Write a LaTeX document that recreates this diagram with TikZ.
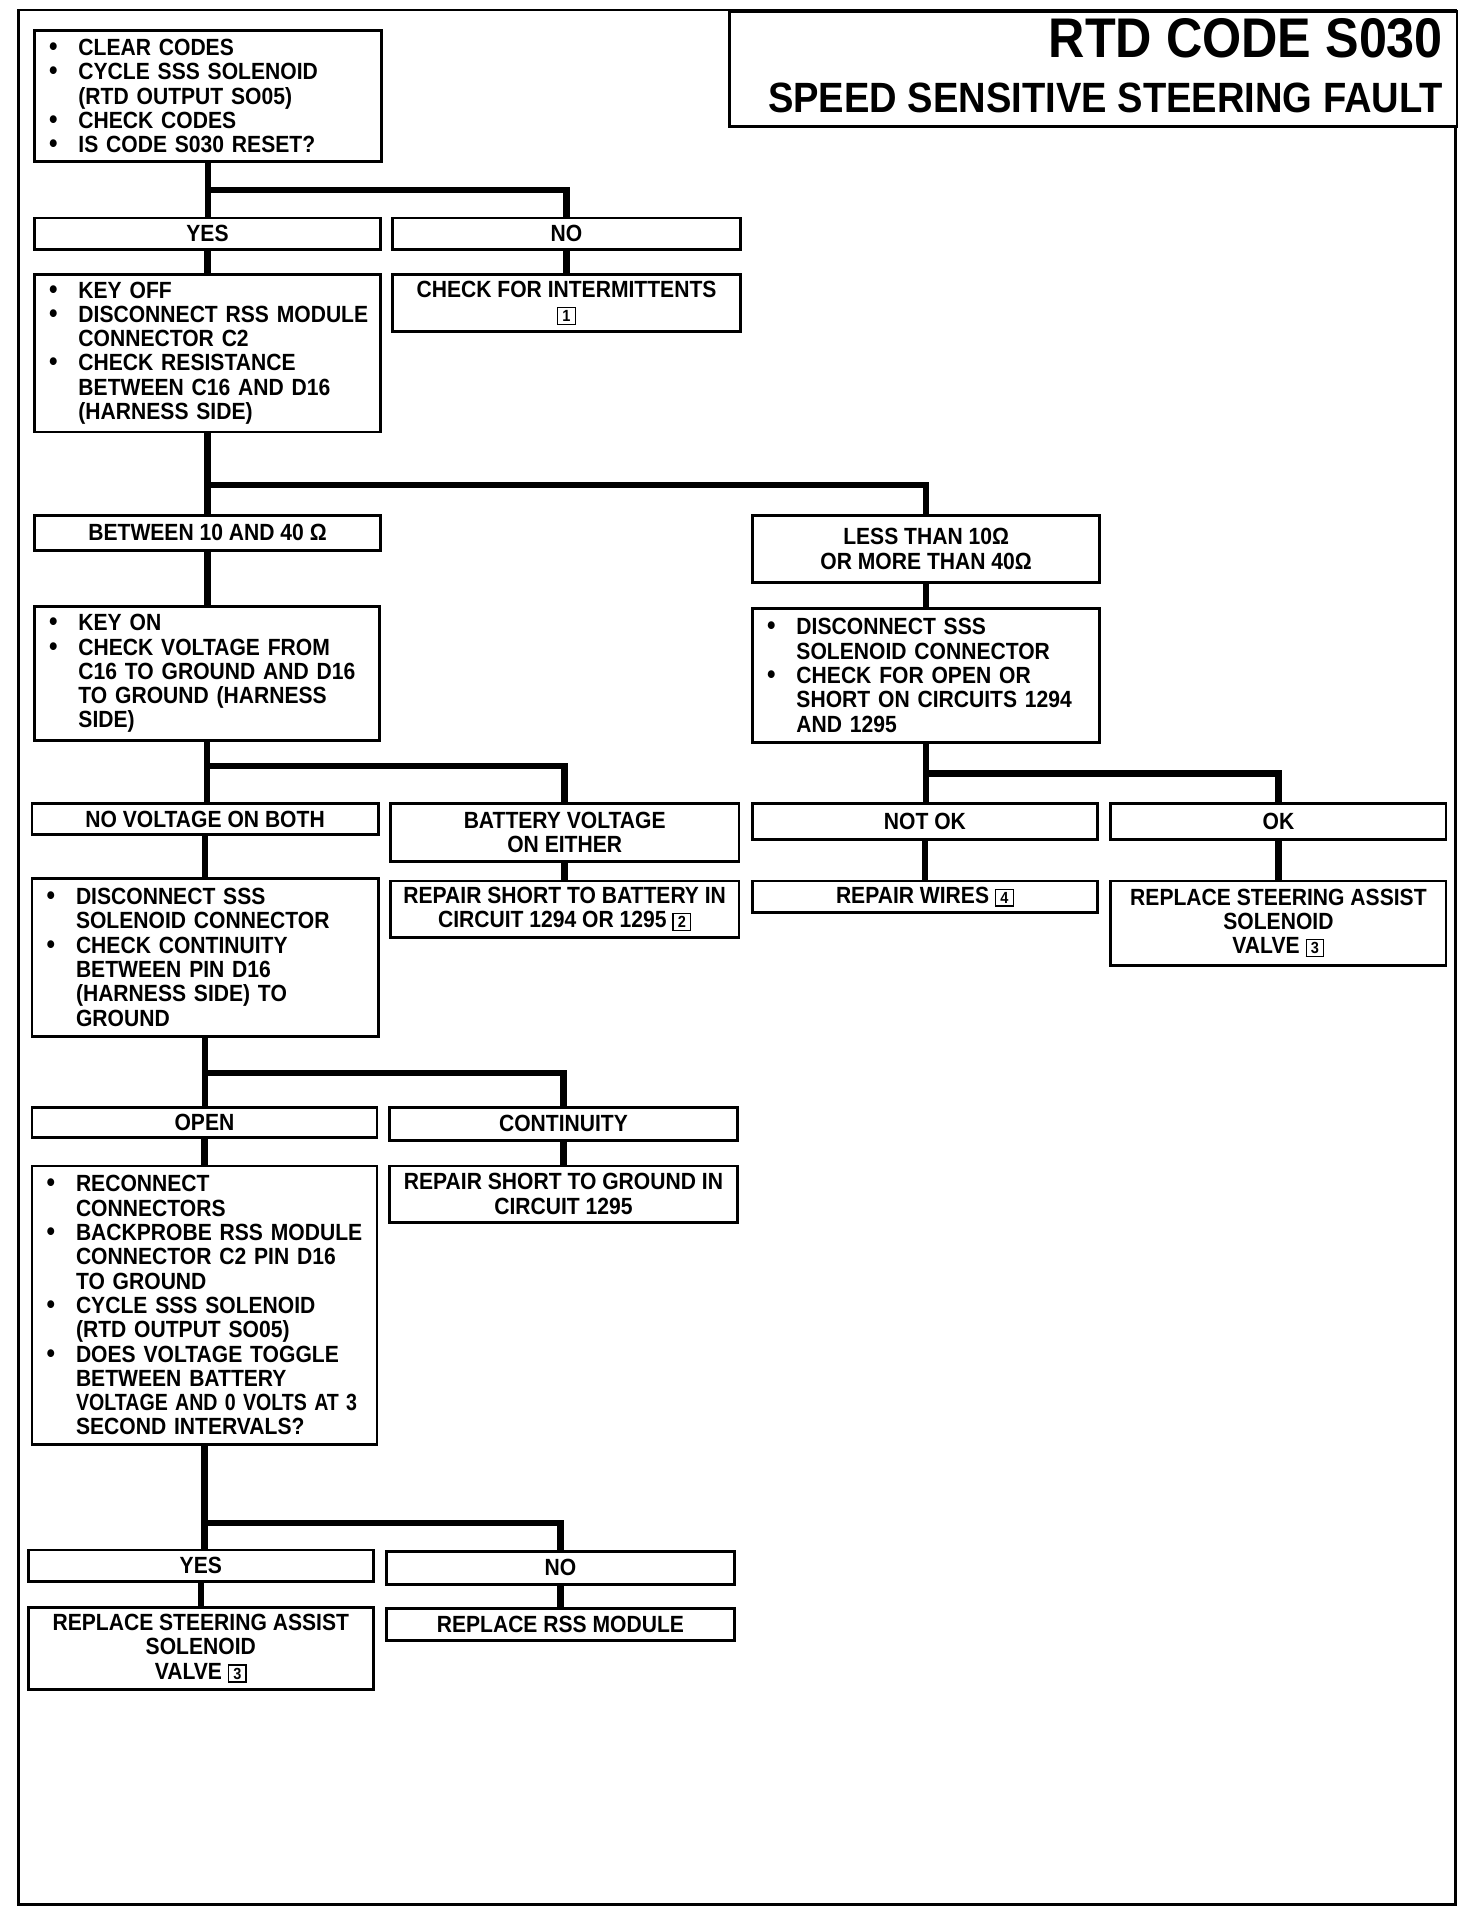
\documentclass[tikz,border=0pt]{standalone}
\usepackage{fontspec}
\setmainfont{Liberation Sans}[FakeStretch=0.9]
\usepackage{graphicx}
\usepackage{tikz}

\newcommand{\bodyfont}{\fontsize{10.9}{11.3}\selectfont\bfseries}
\newcommand{\bul}[1]{\mbox{\hspace{0.09cm}\makebox[0.48cm][l]{\fontsize{12.5}{11}\selectfont\textbullet}#1}}
\newcommand{\nobul}[1]{\mbox{\hspace{0.57cm}#1}}
\newcommand{\refno}[1]{{\setlength{\fboxsep}{1pt}\setlength{\fboxrule}{0.6pt}\fbox{\makebox[5.6pt]{\fontsize{7.5}{7.5}\selectfont #1}}}}

\tikzset{
  flow/.style={draw, line width=1.3pt, fill=white, anchor=north west, inner ysep=0pt, font=\bodyfont},
  ans/.style={flow, inner xsep=0.1cm, align=center},
  act/.style={flow, inner xsep=0.15cm, align=left},
  conn/.style={line width=3pt},
  titlebox/.style={draw, line width=1.3pt, fill=white, anchor=north west},
}

\begin{document}
\begin{tikzpicture}[x=0.2mm, y=-0.2mm]
	\useasboundingbox (0,0) rectangle (1203,1568);
	\draw[line width=1.1pt] (15,8) rectangle (1190,1557);
	\node[titlebox, minimum width=11.9cm, minimum height=1.88cm] (title) at (595,8) {};
	\node[anchor=base east, inner sep=0pt, font=\fontsize{26}{26}\selectfont\bfseries] (code) at (1180,47) {RTD CODE S030};
	\node[anchor=base east, inner sep=0pt, font=\fontsize{19.7}{19.7}\selectfont\bfseries] (fault) at (1180,92) {SPEED SENSITIVE STEERING FAULT};

	\node[act, text width=5.38cm, minimum height=2.14cm] (start) at (27,24) {\bul{CLEAR CODES}\\ \bul{CYCLE SSS SOLENOID}\\ \nobul{(RTD OUTPUT SO05)}\\ \bul{CHECK CODES}\\ \bul{IS CODE S030 RESET?}};
	\node[ans, minimum width=5.66cm, minimum height=0.52cm] (yes1) at (27,177) {YES};
	\node[ans, minimum width=5.68cm, minimum height=0.52cm] (no1) at (320,177) {NO};
	\node[act, text width=5.36cm, minimum height=2.58cm] (keyoff) at (27,223) {\bul{KEY OFF}\\ \bul{DISCONNECT RSS MODULE}\\ \nobul{CONNECTOR C2}\\ \bul{CHECK RESISTANCE}\\ \nobul{BETWEEN C16 AND D16}\\ \nobul{(HARNESS SIDE)}};
	\node[ans, minimum width=5.68cm, minimum height=0.94cm] (interm) at (320,223) {CHECK FOR INTERMITTENTS\\ \refno{1}};
	\node[ans, minimum width=5.66cm, minimum height=0.58cm] (betw) at (27,420) {BETWEEN 10 AND 40 Ω};
	\node[ans, minimum width=5.68cm, minimum height=1.10cm] (less) at (614,420) {LESS THAN 10Ω\\ OR MORE THAN 40Ω};
	\node[act, text width=5.34cm, minimum height=2.18cm] (keyon) at (27,495) {\bul{KEY ON}\\ \bul{CHECK VOLTAGE FROM}\\ \nobul{C16 TO GROUND AND D16}\\ \nobul{TO GROUND (HARNESS}\\ \nobul{SIDE)}};
	\node[act, text width=5.38cm, minimum height=2.20cm] (discR) at (614,496) {\bul{DISCONNECT SSS}\\ \nobul{SOLENOID CONNECTOR}\\ \bul{CHECK FOR OPEN OR}\\ \nobul{SHORT ON CIRCUITS 1294}\\ \nobul{AND 1295}};
	\node[ans, minimum width=5.66cm, minimum height=0.50cm] (novolt) at (25,656) {NO VOLTAGE ON BOTH};
	\node[ans, minimum width=5.70cm, minimum height=0.94cm] (batt) at (318,656) {BATTERY VOLTAGE\\ ON EITHER};
	\node[ans, minimum width=5.64cm, minimum height=0.58cm] (notok) at (614,656) {NOT OK};
	\node[ans, minimum width=5.48cm, minimum height=0.58cm] (ok) at (907,656) {OK};
	\node[act, text width=5.36cm, minimum height=2.58cm] (discL) at (25,717) {\bul{DISCONNECT SSS}\\ \nobul{SOLENOID CONNECTOR}\\ \bul{CHECK CONTINUITY}\\ \nobul{BETWEEN PIN D16}\\ \nobul{(HARNESS SIDE) TO}\\ \nobul{GROUND}};
	\node[ans, minimum width=5.70cm, minimum height=0.92cm] (repbatt) at (318,719) {REPAIR SHORT TO BATTERY IN\\ CIRCUIT 1294 OR 1295 \refno{2}};
	\node[ans, minimum width=5.64cm, minimum height=0.52cm] (repwire) at (614,719) {REPAIR WIRES \refno{4}};
	\node[ans, minimum width=5.48cm, minimum height=1.38cm] (replR) at (907,719) {REPLACE STEERING ASSIST\\ SOLENOID\\ VALVE \refno{3}};
	\node[ans, minimum width=5.64cm, minimum height=0.50cm] (open) at (25,904) {OPEN};
	\node[ans, minimum width=5.70cm, minimum height=0.54cm] (cont) at (317,904) {CONTINUITY};
	\node[act, text width=5.34cm, minimum height=4.56cm] (recon) at (25,952) {\bul{RECONNECT}\\ \nobul{CONNECTORS}\\ \bul{BACKPROBE RSS MODULE}\\ \nobul{CONNECTOR C2 PIN D16}\\ \nobul{TO GROUND}\\ \bul{CYCLE SSS SOLENOID}\\ \nobul{(RTD OUTPUT SO05)}\\ \bul{DOES VOLTAGE TOGGLE}\\ \nobul{BETWEEN BATTERY}\\ \nobul{\scalebox{0.93}[1]{VOLTAGE AND 0 VOLTS AT 3}}\\ \nobul{SECOND INTERVALS?}};
	\node[ans, minimum width=5.70cm, minimum height=0.92cm] (repgnd) at (317,952) {REPAIR SHORT TO GROUND IN\\ CIRCUIT 1295};
	\node[ans, minimum width=5.64cm, minimum height=0.52cm] (yes2) at (22,1266) {YES};
	\node[ans, minimum width=5.68cm, minimum height=0.54cm] (no2) at (315,1267) {NO};
	\node[ans, minimum width=5.64cm, minimum height=1.34cm] (replL) at (22,1313) {REPLACE STEERING ASSIST\\ SOLENOID\\ VALVE \refno{3}};
	\node[ans, minimum width=5.68cm, minimum height=0.52cm] (rss) at (315,1314) {REPLACE RSS MODULE};

	\draw[conn] (start.south) -- (start.south |- yes1.north);
	\draw[conn] (start.south) ++(0,22) -| (no1.north);
	\draw[conn] (yes1.south) -- (yes1.south |- keyoff.north);
	\draw[conn] (no1.south) -- (no1.south |- interm.north);
	\draw[conn] (keyoff.south) -- (keyoff.south |- betw.north);
	\draw[conn] (keyoff.south) ++(0,42) -| (less.north);
	\draw[conn] (betw.south) -- (betw.south |- keyon.north);
	\draw[conn] (less.south) -- (less.south |- discR.north);
	\draw[conn] (keyon.south) -- (keyon.south |- novolt.north);
	\draw[conn] (keyon.south) ++(0,20) -| (batt.north);
	\draw[conn] (discR.south) -- (discR.south |- notok.north);
	\draw[conn] (discR.south) ++(0,24) -| (ok.north);
	\draw[conn] (novolt.south) -- (novolt.south |- discL.north);
	\draw[conn] (batt.south) -- (batt.south |- repbatt.north);
	\draw[conn] (notok.south) -- (notok.south |- repwire.north);
	\draw[conn] (ok.south) -- (ok.south |- replR.north);
	\draw[conn] (discL.south) -- (discL.south |- open.north);
	\draw[conn] (discL.south) ++(0,29) -| (cont.north);
	\draw[conn] (open.south) -- (open.south |- recon.north);
	\draw[conn] (cont.south) -- (cont.south |- repgnd.north);
	\draw[conn] (recon.south) -- (recon.south |- yes2.north);
	\draw[conn] (recon.south) ++(0,63) -| (no2.north);
	\draw[conn] (yes2.south) -- (yes2.south |- replL.north);
	\draw[conn] (no2.south) -- (no2.south |- rss.north);
\end{tikzpicture}
\end{document}
